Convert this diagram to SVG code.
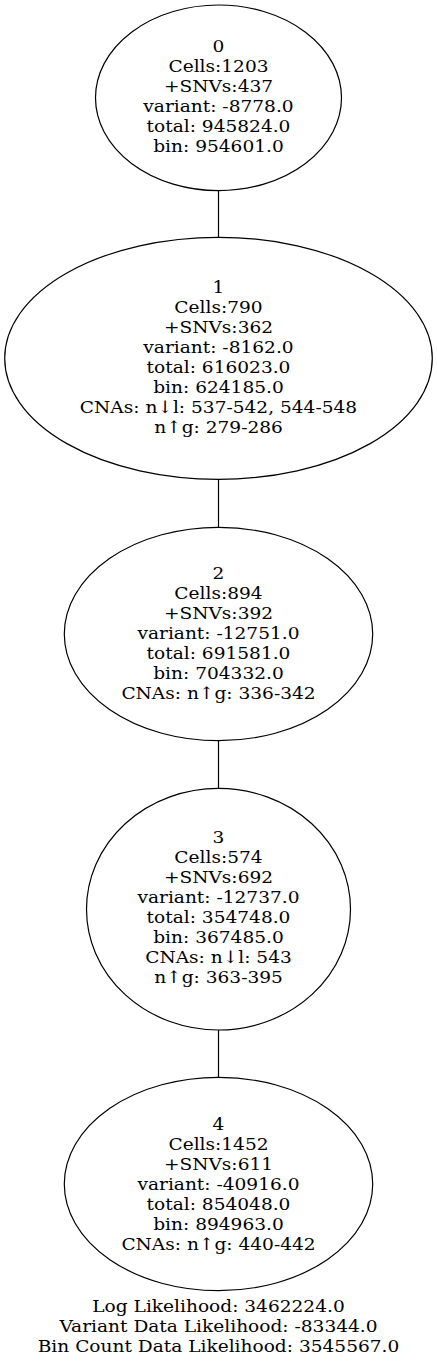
<svg xmlns="http://www.w3.org/2000/svg" width="437" height="1362" viewBox="0 0 437 1362">
<style>
text{font-family:"DejaVu Serif","Liberation Serif",serif;font-size:17.2px;text-anchor:middle;fill:#000}
ellipse{fill:none;stroke:#000;stroke-width:1.2}
.edge line{stroke:#000;stroke-width:1.2}
</style>
<rect width="437" height="1362" fill="#fff"/>
<g class="edge" id="edges">
<line x1="218.5" y1="190.7" x2="218.5" y2="237.3"/>
<line x1="218.5" y1="479.3" x2="218.5" y2="527.3"/>
<line x1="218.5" y1="740.7" x2="218.5" y2="788.3"/>
<line x1="218.5" y1="1030" x2="218.5" y2="1077.3"/>
</g>
<g id="node0">
<ellipse cx="218.5" cy="97.8" rx="123" ry="92.8"/>
<g transform="matrix(1.08,0,0,1,-17.48,0)">
<text x="218.5" y="52.5">0</text>
<text x="218.5" y="72.5">Cells:1203</text>
<text x="218.5" y="92.4">+SNVs:437</text>
<text x="218.5" y="112.3">variant: -8778.0</text>
<text x="218.5" y="132.3">total: 945824.0</text>
<text x="218.5" y="152.3">bin: 954601.0</text>
</g>
</g>
<g id="node1">
<ellipse cx="218.5" cy="358.3" rx="213.8" ry="121"/>
<g transform="matrix(1.08,0,0,1,-17.48,0)">
<text x="218.5" y="293.3">1</text>
<text x="218.5" y="313.3">Cells:790</text>
<text x="218.5" y="333.3">+SNVs:362</text>
<text x="218.5" y="353.3">variant: -8162.0</text>
<text x="218.5" y="373.3">total: 616023.0</text>
<text x="218.5" y="393.3">bin: 624185.0</text>
<text x="218.5" y="413.3">CNAs: n↓l: 537-542, 544-548</text>
<text x="218.5" y="433.3">n↑g: 279-286</text>
</g>
</g>
<g id="node2">
<ellipse cx="218.5" cy="634" rx="154.2" ry="106.7"/>
<g transform="matrix(1.08,0,0,1,-17.48,0)">
<text x="218.5" y="579.3">2</text>
<text x="218.5" y="599.3">Cells:894</text>
<text x="218.5" y="619.3">+SNVs:392</text>
<text x="218.5" y="639.3">variant: -12751.0</text>
<text x="218.5" y="659.3">total: 691581.0</text>
<text x="218.5" y="679.3">bin: 704332.0</text>
<text x="218.5" y="699.3">CNAs: n↑g: 336-342</text>
</g>
</g>
<g id="node3">
<ellipse cx="218.5" cy="909.2" rx="132" ry="120.8"/>
<g transform="matrix(1.08,0,0,1,-17.48,0)">
<text x="218.5" y="843.3">3</text>
<text x="218.5" y="863.3">Cells:574</text>
<text x="218.5" y="883.3">+SNVs:692</text>
<text x="218.5" y="903.3">variant: -12737.0</text>
<text x="218.5" y="923.3">total: 354748.0</text>
<text x="218.5" y="943.3">bin: 367485.0</text>
<text x="218.5" y="963.3">CNAs: n↓l: 543</text>
<text x="218.5" y="983.3">n↑g: 363-395</text>
</g>
</g>
<g id="node4">
<ellipse cx="218.5" cy="1184" rx="154.2" ry="106.7"/>
<g transform="matrix(1.08,0,0,1,-17.48,0)">
<text x="218.5" y="1130">4</text>
<text x="218.5" y="1150">Cells:1452</text>
<text x="218.5" y="1170">+SNVs:611</text>
<text x="218.5" y="1190">variant: -40916.0</text>
<text x="218.5" y="1210">total: 854048.0</text>
<text x="218.5" y="1230">bin: 894963.0</text>
<text x="218.5" y="1250">CNAs: n↑g: 440-442</text>
</g>
</g>
<g id="graph-label" transform="matrix(1.08,0,0,1,-17.48,0)">
<text x="218.5" y="1311.7">Log Likelihood: 3462224.0</text>
<text x="218.5" y="1331.7">Variant Data Likelihood: -83344.0</text>
<text x="218.5" y="1351.7">Bin Count Data Likelihood: 3545567.0</text>
</g>
</svg>
